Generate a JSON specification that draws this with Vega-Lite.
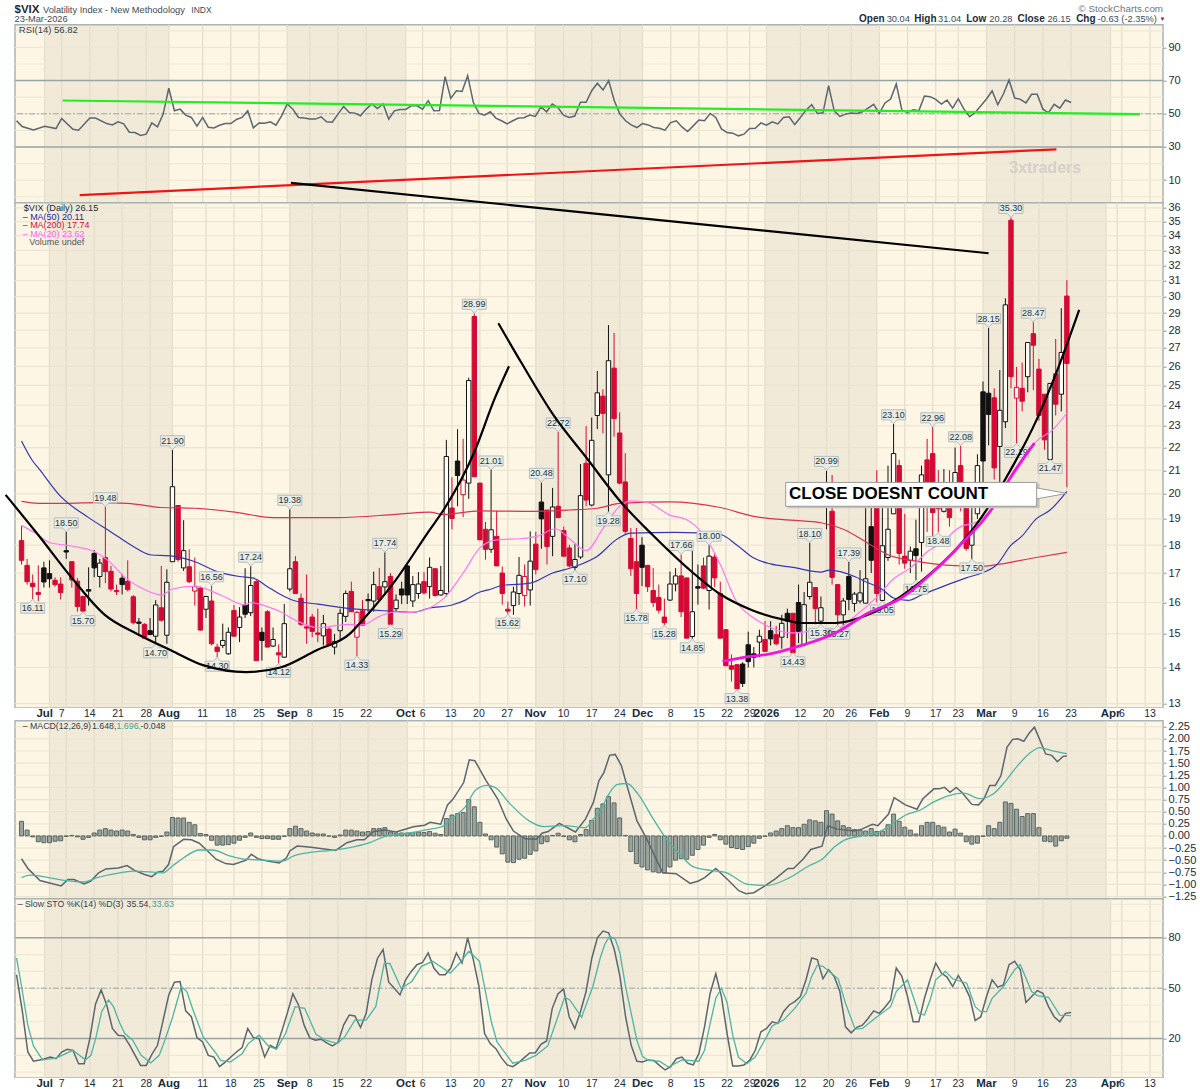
{"$schema":"https://vega.github.io/schema/vega-lite/v6.json","background":"white","padding":{"left":0,"top":2.7,"right":10,"bottom":0},"bounds":"flush","spacing":0,
"config":{"view":{"fill":"#fdf6e4","stroke":"#a9b4b4","strokeWidth":1.5},"font":"Liberation Sans","axis":{"labelFont":"Liberation Sans","labelFontSize":11,"labelColor":"#1b2b3b","labelPadding":2,"tickSize":3,"tickColor":"#8a9696","domain":false,"grid":false,"labelOverlap":false}},
"datasets":{
"bands":[{"a":5,"b":27},{"a":48,"b":69},{"a":92,"b":111},{"a":133,"b":153},{"a":172,"b":194}],
"xticks":[{"i":5,"label":"Jul","major":true},{"i":8,"label":"7","major":false},{"i":13,"label":"14","major":false},{"i":18,"label":"21","major":false},{"i":23,"label":"28","major":false},{"i":27,"label":"Aug","major":true},{"i":33,"label":"11","major":false},{"i":38,"label":"18","major":false},{"i":43,"label":"25","major":false},{"i":48,"label":"Sep","major":true},{"i":52,"label":"8","major":false},{"i":57,"label":"15","major":false},{"i":62,"label":"22","major":false},{"i":69,"label":"Oct","major":true},{"i":72,"label":"6","major":false},{"i":77,"label":"13","major":false},{"i":82,"label":"20","major":false},{"i":87,"label":"27","major":false},{"i":92,"label":"Nov","major":true},{"i":97,"label":"10","major":false},{"i":102,"label":"17","major":false},{"i":107,"label":"24","major":false},{"i":111,"label":"Dec","major":true},{"i":116,"label":"8","major":false},{"i":121,"label":"15","major":false},{"i":126,"label":"22","major":false},{"i":130,"label":"29","major":false},{"i":133,"label":"2026","major":true},{"i":139,"label":"12","major":false},{"i":144,"label":"20","major":false},{"i":148,"label":"26","major":false},{"i":153,"label":"Feb","major":true},{"i":158,"label":"9","major":false},{"i":163,"label":"17","major":false},{"i":167,"label":"23","major":false},{"i":172,"label":"Mar","major":true},{"i":177,"label":"9","major":false},{"i":182,"label":"16","major":false},{"i":187,"label":"23","major":false},{"i":194,"label":"Apr","major":true},{"i":196,"label":"6","major":false},{"i":201,"label":"13","major":false}],
"candles":[
{"i":0,"o":18.17,"h":18.72,"l":17.3,"c":17.45,"d":"dn"},{"i":1,"o":17.27,"h":17.5,"l":16.6,"c":16.7,"d":"dn"},{"i":2,"o":16.65,"h":16.95,"l":16.11,"c":16.53,"d":"dn"},{"i":3,"o":16.33,"h":17.27,"l":16.05,"c":16.27,"d":"dn"},{"i":4,"o":17.18,"h":17.4,"l":16.5,"c":16.69,"d":"up"},{"i":5,"o":16.98,"h":17.45,"l":16.5,"c":16.8,"d":"up"},{"i":6,"o":16.75,"h":16.85,"l":16.53,"c":16.6,"d":"dn"},{"i":7,"o":16.62,"h":16.85,"l":16.1,"c":16.33,"d":"dn"},{"i":8,"o":17.8,"h":18.5,"l":17.5,"c":17.75,"d":"up"},{"i":9,"o":17.4,"h":17.42,"l":16.5,"c":16.76,"d":"dn"},
{"i":10,"o":16.72,"h":16.83,"l":15.7,"c":15.87,"d":"dn"},{"i":11,"o":16.2,"h":16.2,"l":15.7,"c":15.72,"d":"dn"},{"i":12,"o":16.43,"h":17.2,"l":15.9,"c":16.38,"d":"up"},{"i":13,"o":17.7,"h":17.82,"l":16.85,"c":17.18,"d":"up"},{"i":14,"o":16.88,"h":17.5,"l":16.5,"c":17.35,"d":"up"},{"i":15,"o":17.55,"h":19.48,"l":16.65,"c":17.05,"d":"dn"},{"i":16,"o":17.06,"h":17.25,"l":16.37,"c":16.45,"d":"dn"},{"i":17,"o":16.4,"h":16.6,"l":16.25,"c":16.36,"d":"dn"},{"i":18,"o":16.82,"h":16.97,"l":16.27,"c":16.6,"d":"up"},{"i":19,"o":16.72,"h":17.45,"l":16.37,"c":16.43,"d":"dn"},
{"i":20,"o":16.19,"h":16.25,"l":15.3,"c":15.35,"d":"dn"},{"i":21,"o":15.37,"h":15.5,"l":14.95,"c":15.33,"d":"up"},{"i":22,"o":15.3,"h":15.33,"l":14.85,"c":14.87,"d":"dn"},{"i":23,"o":15.1,"h":15.5,"l":14.98,"c":14.98,"d":"up"},{"i":24,"o":14.93,"h":16.08,"l":14.7,"c":15.92,"d":"up"},{"i":25,"o":15.83,"h":17.25,"l":15.38,"c":15.43,"d":"dn"},{"i":26,"o":14.96,"h":17.13,"l":14.7,"c":16.68,"d":"up"},{"i":27,"o":17.4,"h":21.9,"l":17.4,"c":20.3,"d":"up"},{"i":28,"o":19.53,"h":19.55,"l":17.4,"c":17.48,"d":"dn"},{"i":29,"o":17.18,"h":18.95,"l":17.07,"c":17.8,"d":"up"},
{"i":30,"o":17.22,"h":17.85,"l":16.65,"c":16.7,"d":"dn"},{"i":31,"o":16.38,"h":17.55,"l":15.9,"c":16.53,"d":"dn"},{"i":32,"o":16.48,"h":16.53,"l":15.1,"c":15.12,"d":"dn"},{"i":33,"o":15.78,"h":16.2,"l":15.5,"c":16.2,"d":"up"},{"i":34,"o":16.05,"h":16.56,"l":14.65,"c":14.7,"d":"dn"},{"i":35,"o":14.6,"h":14.7,"l":14.3,"c":14.47,"d":"dn"},{"i":36,"o":14.65,"h":15.32,"l":14.57,"c":14.8,"d":"up"},{"i":37,"o":14.4,"h":15.2,"l":14.37,"c":15.05,"d":"up"},{"i":38,"o":15.74,"h":15.92,"l":14.93,"c":14.93,"d":"dn"},{"i":39,"o":15.2,"h":15.85,"l":14.75,"c":15.53,"d":"up"},
{"i":40,"o":15.92,"h":17.17,"l":15.5,"c":15.62,"d":"up"},{"i":41,"o":15.67,"h":17.24,"l":15.56,"c":16.57,"d":"up"},{"i":42,"o":16.7,"h":16.75,"l":14.2,"c":14.2,"d":"dn"},{"i":43,"o":15.05,"h":15.2,"l":14.2,"c":14.8,"d":"up"},{"i":44,"o":15.7,"h":15.75,"l":14.6,"c":14.6,"d":"dn"},{"i":45,"o":14.63,"h":15.2,"l":14.6,"c":14.83,"d":"up"},{"i":46,"o":14.43,"h":14.68,"l":14.12,"c":14.37,"d":"dn"},{"i":47,"o":14.3,"h":15.95,"l":14.28,"c":15.32,"d":"up"},{"i":48,"o":16.45,"h":19.38,"l":16.37,"c":17.15,"d":"up"},{"i":49,"o":17.4,"h":17.6,"l":16.3,"c":16.3,"d":"dn"},
{"i":50,"o":16.14,"h":16.3,"l":15.25,"c":15.3,"d":"dn"},{"i":51,"o":15.22,"h":16.95,"l":14.7,"c":15.18,"d":"dn"},{"i":52,"o":15.53,"h":15.63,"l":14.9,"c":15.08,"d":"dn"},{"i":53,"o":15.03,"h":15.8,"l":14.75,"c":14.99,"d":"dn"},{"i":54,"o":14.94,"h":15.6,"l":14.65,"c":15.32,"d":"up"},{"i":55,"o":15.15,"h":15.2,"l":14.62,"c":14.65,"d":"dn"},{"i":56,"o":14.6,"h":15,"l":14.38,"c":14.77,"d":"up"},{"i":57,"o":15.1,"h":15.8,"l":14.83,"c":15.65,"d":"up"},{"i":58,"o":15.55,"h":16.4,"l":15.37,"c":16.3,"d":"up"},{"i":59,"o":16.37,"h":16.7,"l":15.7,"c":15.7,"d":"dn"},
{"i":60,"o":14.9,"h":15.72,"l":14.33,"c":15.68,"d":"dn"},{"i":61,"o":15.73,"h":16.08,"l":15.25,"c":15.27,"d":"dn"},{"i":62,"o":16.1,"h":16.3,"l":15.7,"c":16.06,"d":"up"},{"i":63,"o":16.05,"h":17.05,"l":15.7,"c":16.6,"d":"up"},{"i":64,"o":16.53,"h":17.18,"l":16.08,"c":16.1,"d":"dn"},{"i":65,"o":16.52,"h":17.74,"l":16.25,"c":16.7,"d":"up"},{"i":66,"o":16.88,"h":17,"l":15.29,"c":15.3,"d":"dn"},{"i":67,"o":15.8,"h":16.27,"l":15.7,"c":16.08,"d":"up"},{"i":68,"o":16.45,"h":16.7,"l":15.95,"c":16.25,"d":"up"},{"i":69,"o":17.25,"h":17.28,"l":15.95,"c":16.25,"d":"up"},
{"i":70,"o":16.05,"h":16.9,"l":15.85,"c":16.6,"d":"up"},{"i":71,"o":16.3,"h":17.03,"l":16.13,"c":16.62,"d":"up"},{"i":72,"o":16.7,"h":17.03,"l":16.27,"c":16.32,"d":"dn"},{"i":73,"o":16.53,"h":17.55,"l":16.13,"c":17.2,"d":"up"},{"i":74,"o":17.15,"h":17.17,"l":16.2,"c":16.23,"d":"dn"},{"i":75,"o":16.25,"h":17.25,"l":16.23,"c":16.4,"d":"up"},{"i":76,"o":16.3,"h":22.35,"l":16.2,"c":21.6,"d":"up"},{"i":77,"o":19.43,"h":20.7,"l":18.6,"c":19.02,"d":"dn"},{"i":78,"o":21.4,"h":22.85,"l":19.5,"c":20.77,"d":"up"},{"i":79,"o":19.97,"h":22.4,"l":19.07,"c":20.58,"d":"dn"},
{"i":80,"o":20.45,"h":25.4,"l":19.8,"c":25.25,"d":"up"},{"i":81,"o":28.8,"h":28.99,"l":20.72,"c":20.72,"d":"dn"},{"i":82,"o":20.45,"h":20.45,"l":18.2,"c":18.2,"d":"dn"},{"i":83,"o":18.6,"h":18.88,"l":17.47,"c":17.85,"d":"dn"},{"i":84,"o":17.85,"h":21.01,"l":17.72,"c":18.58,"d":"up"},{"i":85,"o":18.33,"h":19.32,"l":17.25,"c":17.25,"d":"dn"},{"i":86,"o":17,"h":17.23,"l":15.93,"c":16.3,"d":"dn"},{"i":87,"o":15.78,"h":16.03,"l":15.62,"c":15.72,"d":"dn"},{"i":88,"o":15.9,"h":16.53,"l":15.6,"c":16.35,"d":"up"},{"i":89,"o":16.3,"h":17.57,"l":15.92,"c":16.92,"d":"up"},
{"i":90,"o":16.23,"h":17.3,"l":15.87,"c":16.88,"d":"dn"},{"i":91,"o":16.42,"h":18.52,"l":15.9,"c":17.42,"d":"up"},{"i":92,"o":18.04,"h":18.5,"l":16.95,"c":17.12,"d":"dn"},{"i":93,"o":19.67,"h":20.48,"l":17.87,"c":19,"d":"up"},{"i":94,"o":19.35,"h":19.35,"l":17.3,"c":17.95,"d":"dn"},{"i":95,"o":18.33,"h":20.25,"l":17.6,"c":19.47,"d":"up"},{"i":96,"o":19.5,"h":22.72,"l":19.05,"c":19.05,"d":"dn"},{"i":97,"o":18.55,"h":18.7,"l":17.58,"c":17.6,"d":"dn"},{"i":98,"o":17.9,"h":18.02,"l":17.2,"c":17.25,"d":"dn"},{"i":99,"o":17.2,"h":18.04,"l":17.1,"c":17.48,"d":"up"},
{"i":100,"o":17.57,"h":21.27,"l":17.5,"c":19.93,"d":"up"},{"i":101,"o":21.3,"h":23,"l":19.5,"c":19.75,"d":"dn"},{"i":102,"o":19.55,"h":23.4,"l":19.5,"c":22.33,"d":"up"},{"i":103,"o":23.5,"h":25.75,"l":22.85,"c":24.62,"d":"up"},{"i":104,"o":24.45,"h":24.8,"l":22.65,"c":23.6,"d":"dn"},{"i":105,"o":20.8,"h":28.3,"l":19.28,"c":26.3,"d":"up"},{"i":106,"o":25.9,"h":27.85,"l":22.5,"c":23.35,"d":"dn"},{"i":107,"o":22.67,"h":23.65,"l":20.4,"c":20.45,"d":"dn"},{"i":108,"o":20.5,"h":21.75,"l":18.4,"c":18.52,"d":"dn"},{"i":109,"o":18.25,"h":18.65,"l":16.9,"c":17.15,"d":"dn"},
{"i":110,"o":17.4,"h":18.65,"l":15.78,"c":16.3,"d":"dn"},{"i":111,"o":18,"h":18.3,"l":16.55,"c":17.2,"d":"up"},{"i":112,"o":17.27,"h":17.27,"l":16.35,"c":16.53,"d":"dn"},{"i":113,"o":16.4,"h":17.18,"l":15.85,"c":16,"d":"dn"},{"i":114,"o":16.17,"h":16.6,"l":15.65,"c":15.75,"d":"dn"},{"i":115,"o":15.53,"h":16.13,"l":15.28,"c":15.35,"d":"dn"},{"i":116,"o":16.08,"h":17.05,"l":16.05,"c":16.62,"d":"up"},{"i":117,"o":16.62,"h":17.17,"l":16.37,"c":16.9,"d":"up"},{"i":118,"o":16.9,"h":17.66,"l":15.53,"c":15.7,"d":"dn"},{"i":119,"o":16.83,"h":16.83,"l":14.87,"c":14.87,"d":"dn"},
{"i":120,"o":14.92,"h":17.8,"l":14.85,"c":15.7,"d":"up"},{"i":121,"o":16.53,"h":17.3,"l":15.93,"c":16.48,"d":"up"},{"i":122,"o":17.25,"h":17.55,"l":16.45,"c":16.48,"d":"dn"},{"i":123,"o":16.4,"h":18,"l":15.77,"c":17.6,"d":"up"},{"i":124,"o":17.57,"h":17.68,"l":16.52,"c":16.83,"d":"dn"},{"i":125,"o":16.3,"h":16.7,"l":14.87,"c":14.87,"d":"dn"},{"i":126,"o":15.13,"h":15.15,"l":14.05,"c":14.05,"d":"dn"},{"i":127,"o":14.05,"h":14.38,"l":13.6,"c":13.95,"d":"dn"},{"i":128,"o":14.08,"h":14.1,"l":13.38,"c":13.4,"d":"dn"},{"i":129,"o":14.1,"h":14.15,"l":13.45,"c":13.55,"d":"up"},
{"i":130,"o":14.67,"h":15.07,"l":14,"c":14.17,"d":"up"},{"i":131,"o":14.4,"h":14.6,"l":14,"c":14.3,"d":"up"},{"i":132,"o":14.75,"h":15.13,"l":14.3,"c":14.93,"d":"up"},{"i":133,"o":14.83,"h":15.4,"l":14.47,"c":14.47,"d":"dn"},{"i":134,"o":15.1,"h":15.4,"l":14.65,"c":14.85,"d":"up"},{"i":135,"o":14.98,"h":15.25,"l":14.65,"c":14.7,"d":"dn"},{"i":136,"o":14.9,"h":15.6,"l":14.55,"c":15.33,"d":"up"},{"i":137,"o":15.65,"h":15.8,"l":14.87,"c":15.4,"d":"up"},{"i":138,"o":15.65,"h":15.65,"l":14.43,"c":14.43,"d":"dn"},{"i":139,"o":16,"h":16.6,"l":14.72,"c":15.08,"d":"up"},
{"i":140,"o":14.67,"h":16.35,"l":14.62,"c":15.93,"d":"up"},{"i":141,"o":16.2,"h":18.1,"l":16.1,"c":16.68,"d":"up"},{"i":142,"o":16.5,"h":16.52,"l":15.3,"c":15.8,"d":"dn"},{"i":143,"o":15.4,"h":16.2,"l":15.3,"c":15.83,"d":"up"},{"i":144,"o":20,"h":20.99,"l":18.6,"c":19.6,"d":"up"},{"i":145,"o":19.3,"h":20.8,"l":16.6,"c":16.85,"d":"dn"},{"i":146,"o":16.6,"h":16.6,"l":15.27,"c":15.6,"d":"dn"},{"i":147,"o":15.6,"h":16.15,"l":15.25,"c":16.05,"d":"up"},{"i":148,"o":16.88,"h":17.39,"l":15.75,"c":16.1,"d":"up"},{"i":149,"o":15.97,"h":16.35,"l":15.7,"c":16.28,"d":"up"},
{"i":150,"o":16.05,"h":17.1,"l":15.97,"c":16.32,"d":"up"},{"i":151,"o":15.98,"h":19.5,"l":15.97,"c":16.8,"d":"up"},{"i":152,"o":18.7,"h":19.5,"l":17,"c":17.45,"d":"up"},{"i":153,"o":19.7,"h":21,"l":16,"c":16.3,"d":"dn"},{"i":154,"o":16.07,"h":20,"l":16.05,"c":17.98,"d":"up"},{"i":155,"o":17.55,"h":21.2,"l":17.43,"c":18.6,"d":"up"},{"i":156,"o":19.2,"h":23.1,"l":19.2,"c":21.73,"d":"up"},{"i":157,"o":21.2,"h":21.45,"l":17.3,"c":17.7,"d":"dn"},{"i":158,"o":17.6,"h":19.2,"l":17.15,"c":17.35,"d":"dn"},{"i":159,"o":17.45,"h":17.95,"l":17,"c":17.78,"d":"up"},
{"i":160,"o":17.87,"h":18.97,"l":16.75,"c":17.62,"d":"up"},{"i":161,"o":18.1,"h":21.2,"l":17.05,"c":20.8,"d":"up"},{"i":162,"o":21.45,"h":22.4,"l":18.5,"c":19.7,"d":"dn"},{"i":163,"o":21.73,"h":22.96,"l":18.3,"c":19.25,"d":"dn"},{"i":164,"o":20,"h":21,"l":18.48,"c":19.4,"d":"dn"},{"i":165,"o":19.3,"h":21.05,"l":19.25,"c":19.5,"d":"up"},{"i":166,"o":19.5,"h":21,"l":18.7,"c":19.05,"d":"dn"},{"i":167,"o":19.5,"h":22,"l":19.5,"c":20.9,"d":"up"},{"i":168,"o":21.2,"h":22.08,"l":19.3,"c":19.5,"d":"dn"},{"i":169,"o":19.5,"h":20,"l":17.8,"c":17.88,"d":"dn"},
{"i":170,"o":18,"h":19.8,"l":17.5,"c":18.5,"d":"up"},{"i":171,"o":19.2,"h":21.7,"l":19,"c":21.2,"d":"up"},{"i":172,"o":24.67,"h":25.2,"l":20.3,"c":21.4,"d":"up"},{"i":173,"o":24.6,"h":28.15,"l":22.1,"c":23.55,"d":"up"},{"i":174,"o":24.37,"h":24.85,"l":20.6,"c":21.1,"d":"dn"},{"i":175,"o":22.05,"h":25.8,"l":20.5,"c":23.75,"d":"up"},{"i":176,"o":23.2,"h":29.9,"l":22.9,"c":29.5,"d":"up"},{"i":177,"o":35.1,"h":35.3,"l":24.85,"c":25.45,"d":"dn"},{"i":178,"o":24.35,"h":25.97,"l":22.19,"c":24.9,"d":"dn"},{"i":179,"o":24.85,"h":26.2,"l":23.7,"c":24.2,"d":"dn"},
{"i":180,"o":25.45,"h":27.3,"l":24.65,"c":27.3,"d":"up"},{"i":181,"o":27.8,"h":28.47,"l":24.75,"c":27.15,"d":"dn"},{"i":182,"o":25.85,"h":26.4,"l":23.25,"c":23.5,"d":"dn"},{"i":183,"o":24.55,"h":24.55,"l":21.9,"c":22.35,"d":"dn"},{"i":184,"o":21.47,"h":25.1,"l":21.47,"c":25.1,"d":"up"},{"i":185,"o":25.6,"h":27.5,"l":23.5,"c":24.05,"d":"dn"},{"i":186,"o":24.55,"h":29.3,"l":23.7,"c":26.75,"d":"up"},{"i":187,"o":30.04,"h":31.04,"l":20.28,"c":26.15,"d":"dn"}],
"ma50":[{"i":0,"v":22.3},{"i":2,"v":21.4},{"i":3,"v":21.1},{"i":7,"v":19.9},{"i":12,"v":19.05},{"i":16,"v":18.5},{"i":20,"v":17.95},{"i":23,"v":17.65},{"i":27,"v":17.6},{"i":31,"v":17.4},{"i":35,"v":17.05},{"i":39,"v":16.88},{"i":41.5,"v":16.82},{"i":44,"v":16.53},{"i":46,"v":16.3},{"i":49,"v":16.05},{"i":53,"v":15.95},{"i":58,"v":15.82},{"i":63,"v":15.75},{"i":66,"v":15.72},{"i":70,"v":15.68},{"i":73,"v":15.82},{"i":77,"v":15.92},{"i":79.4,"v":16.08},{"i":82,"v":16.35},{"i":83.5,"v":16.42},{"i":86,"v":16.57},{"i":91,"v":16.65},{"i":95,"v":17},{"i":99,"v":17.23},{"i":103,"v":17.6},{"i":106.7,"v":18.25},{"i":109,"v":18.45},{"i":117,"v":18.48},{"i":125,"v":18.4},{"i":128,"v":18},{"i":131,"v":17.53},{"i":134,"v":17.32},{"i":138,"v":17.2},{"i":143,"v":17.03},{"i":144.5,"v":17.1},{"i":149,"v":16.88},{"i":151,"v":16.7},{"i":154,"v":16.43},{"i":156,"v":16.15},{"i":158.6,"v":16.07},{"i":161,"v":16.25},{"i":165,"v":16.55},{"i":169,"v":16.83},{"i":172,"v":17.02},{"i":174.5,"v":17.3},{"i":177,"v":18},{"i":179,"v":18.35},{"i":181.5,"v":19},{"i":184,"v":19.35},{"i":187,"v":20.11}],
"ma200":[{"i":0,"v":19.7},{"i":3,"v":19.62},{"i":8.4,"v":19.62},{"i":13,"v":19.65},{"i":19,"v":19.62},{"i":25,"v":19.45},{"i":31,"v":19.42},{"i":38.6,"v":19.25},{"i":45,"v":19.05},{"i":56.5,"v":19.05},{"i":67,"v":19.18},{"i":73,"v":19.27},{"i":75.5,"v":19.17},{"i":82,"v":19.32},{"i":91.5,"v":19.3},{"i":98,"v":19.35},{"i":103,"v":19.42},{"i":107,"v":19.62},{"i":116,"v":19.68},{"i":125,"v":19.45},{"i":131,"v":19.1},{"i":137.6,"v":18.95},{"i":143,"v":18.85},{"i":147,"v":18.6},{"i":152,"v":18},{"i":155,"v":17.65},{"i":160,"v":17.42},{"i":167,"v":17.26},{"i":172.3,"v":17.24},{"i":174.5,"v":17.3},{"i":178,"v":17.42},{"i":181.5,"v":17.55},{"i":187,"v":17.74}],
"ma20":[{"i":0,"v":18.75},{"i":2.5,"v":18.45},{"i":5,"v":18.1},{"i":9,"v":17.97},{"i":13,"v":17.77},{"i":16,"v":17.35},{"i":18.5,"v":16.85},{"i":21,"v":16.53},{"i":25,"v":16.25},{"i":27,"v":16.45},{"i":31,"v":16.55},{"i":35.6,"v":16.25},{"i":40,"v":15.92},{"i":41,"v":16},{"i":45,"v":15.8},{"i":46.3,"v":15.7},{"i":49,"v":15.43},{"i":53,"v":15.2},{"i":58.6,"v":15.3},{"i":61,"v":15.28},{"i":64,"v":15.55},{"i":67,"v":15.7},{"i":69.8,"v":15.68},{"i":75.5,"v":16.13},{"i":79,"v":17},{"i":82,"v":17.9},{"i":85,"v":18.2},{"i":89.5,"v":18.25},{"i":92.5,"v":18.35},{"i":95.5,"v":18.62},{"i":98,"v":18.25},{"i":101,"v":17.8},{"i":104,"v":18.62},{"i":107,"v":19.5},{"i":109,"v":19.72},{"i":112,"v":19.65},{"i":116,"v":19.15},{"i":119,"v":18.97},{"i":122.5,"v":18.25},{"i":125,"v":17.3},{"i":128,"v":16},{"i":131,"v":15.5},{"i":134,"v":15.2},{"i":137.6,"v":15.03},{"i":141,"v":15.08},{"i":145.5,"v":15.13},{"i":149,"v":15.55},{"i":153,"v":16.18},{"i":156,"v":16.8},{"i":159,"v":17.18},{"i":162.5,"v":17.83},{"i":164,"v":18},{"i":168,"v":18.7},{"i":171,"v":18.9},{"i":173.4,"v":19.35},{"i":177,"v":20.65},{"i":179,"v":21.35},{"i":181.5,"v":22.27},{"i":184.4,"v":22.8},{"i":187,"v":23.62}],
"tags":[{"i":2,"p":16.11,"pos":"below"},{"i":11,"p":15.7,"pos":"below"},{"i":24,"p":14.7,"pos":"below"},{"i":35,"p":14.3,"pos":"below"},{"i":46,"p":14.12,"pos":"below"},{"i":60,"p":14.33,"pos":"below"},{"i":66,"p":15.29,"pos":"below"},{"i":87,"p":15.62,"pos":"below"},{"i":99,"p":17.1,"pos":"below"},{"i":105,"p":19.28,"pos":"below"},{"i":110,"p":15.78,"pos":"below"},{"i":115,"p":15.28,"pos":"below"},{"i":120,"p":14.85,"pos":"below"},{"i":128,"p":13.38,"pos":"below"},{"i":138,"p":14.43,"pos":"below"},{"i":143,"p":15.3,"pos":"below"},{"i":146,"p":15.27,"pos":"below"},{"i":154,"p":16.05,"pos":"below"},{"i":160,"p":16.75,"pos":"below"},{"i":164,"p":18.48,"pos":"below"},{"i":170,"p":17.5,"pos":"below"},{"i":178,"p":22.19,"pos":"below"},{"i":184,"p":21.47,"pos":"below"},{"i":8,"p":18.5,"pos":"above"},{"i":15,"p":19.48,"pos":"above"},{"i":27,"p":21.9,"pos":"above"},{"i":34,"p":16.56,"pos":"above"},{"i":41,"p":17.24,"pos":"above"},{"i":48,"p":19.38,"pos":"above"},{"i":65,"p":17.74,"pos":"above"},{"i":81,"p":28.99,"pos":"above"},{"i":84,"p":21.01,"pos":"above"},{"i":93,"p":20.48,"pos":"above"},{"i":96,"p":22.72,"pos":"above"},{"i":118,"p":17.66,"pos":"above"},{"i":123,"p":18,"pos":"above"},{"i":141,"p":18.1,"pos":"above"},{"i":144,"p":20.99,"pos":"above"},{"i":148,"p":17.39,"pos":"above"},{"i":156,"p":23.1,"pos":"above"},{"i":163,"p":22.96,"pos":"above"},{"i":168,"p":22.08,"pos":"above"},{"i":173,"p":28.15,"pos":"above"},{"i":177,"p":35.3,"pos":"above"},{"i":181,"p":28.47,"pos":"above"}],
"arcs":[{"arc":"a","n":0,"i":-2.84,"v":19.96},{"arc":"a","n":1,"i":3,"v":18.38},{"arc":"a","n":2,"i":9,"v":16.83},{"arc":"a","n":3,"i":14.9,"v":15.6},{"arc":"a","n":4,"i":20.7,"v":15},{"arc":"a","n":5,"i":26.8,"v":14.5},{"arc":"a","n":6,"i":32.6,"v":14.06},{"arc":"a","n":7,"i":40.2,"v":13.87},{"arc":"a","n":8,"i":46.3,"v":14},{"arc":"a","n":9,"i":52.7,"v":14.5},{"arc":"a","n":10,"i":58.7,"v":15},{"arc":"a","n":11,"i":61,"v":15.43},{"arc":"a","n":12,"i":66.8,"v":16.72},{"arc":"a","n":13,"i":72.9,"v":18.54},{"arc":"a","n":14,"i":75.7,"v":19.42},{"arc":"a","n":15,"i":81,"v":21.8},{"arc":"a","n":16,"i":84.6,"v":24.3},{"arc":"a","n":17,"i":87.2,"v":26},{"arc":"b","n":0,"i":85.3,"v":28.4},{"arc":"b","n":1,"i":89.4,"v":26.2},{"arc":"b","n":2,"i":95.2,"v":23.5},{"arc":"b","n":3,"i":101.2,"v":21.5},{"arc":"b","n":4,"i":107.1,"v":19.7},{"arc":"b","n":5,"i":112.9,"v":18.38},{"arc":"b","n":6,"i":119,"v":17.2},{"arc":"b","n":7,"i":124.8,"v":16.3},{"arc":"b","n":8,"i":130.7,"v":15.75},{"arc":"b","n":9,"i":136.7,"v":15.43},{"arc":"b","n":10,"i":139.5,"v":15.34},{"arc":"b","n":11,"i":145.6,"v":15.34},{"arc":"b","n":12,"i":151.4,"v":15.6},{"arc":"b","n":13,"i":157.3,"v":16.2},{"arc":"b","n":14,"i":163.3,"v":17.1},{"arc":"b","n":15,"i":167.4,"v":17.9},{"arc":"b","n":16,"i":173.2,"v":19.55},{"arc":"b","n":17,"i":175.7,"v":20.5},{"arc":"b","n":18,"i":181.6,"v":23.3},{"arc":"b","n":19,"i":185.1,"v":25.65},{"arc":"b","n":20,"i":189.2,"v":29.2},{"arc":"c","n":0,"i":48.2,"v":37.9},{"arc":"c","n":1,"i":173,"v":32.8}],
"magenta":[{"i":125.4,"v":14.18},{"i":130.7,"v":14.33},{"i":133.7,"v":14.39},{"i":139.5,"v":14.65},{"i":145.6,"v":15.03},{"i":151.4,"v":15.65},{"i":157.3,"v":16.14},{"i":163.3,"v":17.08},{"i":167.4,"v":17.9},{"i":173.9,"v":19.5},{"i":176.8,"v":20.65},{"i":181.2,"v":22.2}],
"rsi":[{"i":0,"v":45.8},{"i":1,"v":42.3},{"i":3,"v":40.3},{"i":5,"v":42.5},{"i":7,"v":41.1},{"i":8,"v":47.2},{"i":10,"v":40.7},{"i":11,"v":40.1},{"i":13,"v":47.4},{"i":14,"v":47.4},{"i":16,"v":44.1},{"i":17,"v":43.3},{"i":18,"v":45.2},{"i":19,"v":43.9},{"i":20,"v":38.9},{"i":21,"v":38.7},{"i":22,"v":36.9},{"i":23,"v":37.7},{"i":24,"v":44.5},{"i":25,"v":42.1},{"i":26,"v":49.8},{"i":27,"v":65.4},{"i":28,"v":51.8},{"i":29,"v":52.8},{"i":30,"v":49.2},{"i":31,"v":47.8},{"i":32,"v":42.5},{"i":33,"v":47.8},{"i":34,"v":41.9},{"i":35,"v":41.5},{"i":36,"v":43.1},{"i":37,"v":44.1},{"i":38,"v":44.1},{"i":39,"v":46.6},{"i":40,"v":47.8},{"i":41,"v":51.8},{"i":42,"v":41.5},{"i":43,"v":44.5},{"i":44,"v":44.3},{"i":45,"v":45.2},{"i":46,"v":43.1},{"i":47,"v":48.8},{"i":48,"v":55.9},{"i":49,"v":52.8},{"i":50,"v":47.8},{"i":51,"v":47.4},{"i":52,"v":46.8},{"i":53,"v":46.8},{"i":54,"v":48.2},{"i":55,"v":45.2},{"i":56,"v":44.9},{"i":57,"v":49.8},{"i":58,"v":54.4},{"i":59,"v":50.8},{"i":60,"v":50.4},{"i":61,"v":48.8},{"i":62,"v":52.8},{"i":63,"v":55.9},{"i":64,"v":53.2},{"i":65,"v":55.9},{"i":66,"v":46.8},{"i":67,"v":51.8},{"i":68,"v":52.6},{"i":69,"v":52.6},{"i":70,"v":54.8},{"i":71,"v":54.8},{"i":72,"v":52.8},{"i":73,"v":57.9},{"i":74,"v":51.8},{"i":75,"v":52},{"i":76,"v":72.4},{"i":77,"v":59.3},{"i":78,"v":63.9},{"i":79,"v":63.5},{"i":80,"v":73},{"i":81,"v":56.9},{"i":82,"v":50.2},{"i":83,"v":49.2},{"i":84,"v":51.2},{"i":85,"v":47.4},{"i":86,"v":45.8},{"i":87,"v":43.9},{"i":88,"v":45.8},{"i":89,"v":47.4},{"i":90,"v":47.6},{"i":91,"v":49.2},{"i":92,"v":48.4},{"i":93,"v":54.2},{"i":94,"v":51.2},{"i":95,"v":55.9},{"i":96,"v":53.8},{"i":97,"v":49.2},{"i":98,"v":47.8},{"i":99,"v":48.6},{"i":100,"v":56.9},{"i":101,"v":56.9},{"i":102,"v":63.9},{"i":103,"v":68.4},{"i":104,"v":64.3},{"i":105,"v":70},{"i":106,"v":57.9},{"i":107,"v":49.8},{"i":108,"v":45.8},{"i":109,"v":43.3},{"i":110,"v":41.7},{"i":111,"v":44.1},{"i":112,"v":43.3},{"i":113,"v":41.7},{"i":114,"v":41.3},{"i":115,"v":40.1},{"i":116,"v":44.7},{"i":117,"v":45.8},{"i":118,"v":42.1},{"i":119,"v":39.3},{"i":120,"v":42.7},{"i":121,"v":46.2},{"i":122,"v":45.8},{"i":123,"v":50.2},{"i":124,"v":47.8},{"i":125,"v":40.9},{"i":126,"v":38.7},{"i":127,"v":38.3},{"i":128,"v":36.7},{"i":129,"v":37.7},{"i":130,"v":41.1},{"i":131,"v":41.3},{"i":132,"v":44.5},{"i":133,"v":43.1},{"i":134,"v":45.2},{"i":135,"v":43.9},{"i":136,"v":47.8},{"i":137,"v":48.2},{"i":138,"v":43.5},{"i":139,"v":47.8},{"i":140,"v":52.2},{"i":141,"v":55.5},{"i":142,"v":50.2},{"i":143,"v":50.6},{"i":144,"v":67},{"i":145,"v":51.8},{"i":146,"v":48.4},{"i":147,"v":49.8},{"i":148,"v":50.4},{"i":149,"v":50.2},{"i":150,"v":51.2},{"i":151,"v":53.4},{"i":152,"v":55.7},{"i":153,"v":50.2},{"i":154,"v":56.5},{"i":155,"v":58.9},{"i":156,"v":68},{"i":157,"v":52.2},{"i":158,"v":50.8},{"i":159,"v":52.4},{"i":160,"v":51.8},{"i":161,"v":60.7},{"i":162,"v":60.3},{"i":163,"v":58.7},{"i":164,"v":55.9},{"i":165,"v":58.3},{"i":166,"v":53.4},{"i":167,"v":59.1},{"i":168,"v":52.8},{"i":169,"v":48.2},{"i":170,"v":50.8},{"i":171,"v":54.8},{"i":172,"v":58.9},{"i":173,"v":63.9},{"i":174,"v":55.5},{"i":175,"v":61.9},{"i":176,"v":70.4},{"i":177,"v":59.5},{"i":178,"v":58.7},{"i":179,"v":56.5},{"i":180,"v":61.7},{"i":181,"v":61.7},{"i":182,"v":52.8},{"i":183,"v":50.6},{"i":184,"v":55.7},{"i":185,"v":53.4},{"i":186,"v":58.3},{"i":187,"v":56.82}],
"hist":[{"i":0,"v":0.3},{"i":1,"v":0.12},{"i":2,"v":-0.02},{"i":3,"v":-0.12},{"i":4,"v":-0.14},{"i":5,"v":-0.14},{"i":6,"v":-0.11},{"i":7,"v":-0.1},{"i":8,"v":-0.01},{"i":9,"v":0.01},{"i":10,"v":-0.02},{"i":11,"v":-0.07},{"i":12,"v":-0.03},{"i":13,"v":0.06},{"i":14,"v":0.12},{"i":15,"v":0.15},{"i":16,"v":0.12},{"i":17,"v":0.1},{"i":18,"v":0.12},{"i":19,"v":0.1},{"i":20,"v":0.03},{"i":21,"v":-0.03},{"i":22,"v":-0.08},{"i":23,"v":-0.08},{"i":24,"v":-0.03},{"i":25,"v":-0.01},{"i":26,"v":0.08},{"i":27,"v":0.38},{"i":28,"v":0.37},{"i":29,"v":0.37},{"i":30,"v":0.28},{"i":31,"v":0.23},{"i":32,"v":0.05},{"i":33,"v":0.03},{"i":34,"v":-0.09},{"i":35,"v":-0.19},{"i":36,"v":-0.19},{"i":37,"v":-0.18},{"i":38,"v":-0.15},{"i":39,"v":-0.09},{"i":40,"v":-0.03},{"i":41,"v":0.06},{"i":42,"v":-0.03},{"i":43,"v":-0.055},{"i":44,"v":-0.055},{"i":45,"v":-0.07},{"i":46,"v":-0.07},{"i":47,"v":-0.01},{"i":48,"v":0.15},{"i":49,"v":0.2},{"i":50,"v":0.15},{"i":51,"v":0.1},{"i":52,"v":0.06},{"i":53,"v":0.04},{"i":54,"v":0.04},{"i":55,"v":-0.005},{"i":56,"v":-0.03},{"i":57,"v":0.02},{"i":58,"v":0.12},{"i":59,"v":0.12},{"i":60,"v":0.1},{"i":61,"v":0.08},{"i":62,"v":0.09},{"i":63,"v":0.15},{"i":64,"v":0.15},{"i":65,"v":0.17},{"i":66,"v":0.08},{"i":67,"v":0.06},{"i":68,"v":0.06},{"i":69,"v":0.06},{"i":70,"v":0.07},{"i":71,"v":0.08},{"i":72,"v":0.07},{"i":73,"v":0.09},{"i":74,"v":0.055},{"i":75,"v":0.03},{"i":76,"v":0.36},{"i":77,"v":0.43},{"i":78,"v":0.46},{"i":79,"v":0.48},{"i":80,"v":0.75},{"i":81,"v":0.6},{"i":82,"v":0.28},{"i":83,"v":0.04},{"i":84,"v":-0.08},{"i":85,"v":-0.23},{"i":86,"v":-0.37},{"i":87,"v":-0.54},{"i":88,"v":-0.55},{"i":89,"v":-0.48},{"i":90,"v":-0.46},{"i":91,"v":-0.38},{"i":92,"v":-0.31},{"i":93,"v":-0.16},{"i":94,"v":-0.12},{"i":95,"v":0.01},{"i":96,"v":0.055},{"i":97,"v":-0.01},{"i":98,"v":-0.08},{"i":99,"v":-0.12},{"i":100,"v":0.03},{"i":101,"v":0.13},{"i":102,"v":0.32},{"i":103,"v":0.57},{"i":104,"v":0.66},{"i":105,"v":0.81},{"i":106,"v":0.68},{"i":107,"v":0.37},{"i":108,"v":0.01},{"i":109,"v":-0.32},{"i":110,"v":-0.57},{"i":111,"v":-0.64},{"i":112,"v":-0.7},{"i":113,"v":-0.74},{"i":114,"v":-0.76},{"i":115,"v":-0.76},{"i":116,"v":-0.64},{"i":117,"v":-0.5},{"i":118,"v":-0.47},{"i":119,"v":-0.48},{"i":120,"v":-0.4},{"i":121,"v":-0.28},{"i":122,"v":-0.19},{"i":123,"v":-0.03},{"i":124,"v":0.03},{"i":125,"v":-0.08},{"i":126,"v":-0.17},{"i":127,"v":-0.24},{"i":128,"v":-0.26},{"i":129,"v":-0.28},{"i":130,"v":-0.22},{"i":131,"v":-0.15},{"i":132,"v":-0.05},{"i":133,"v":-0.01},{"i":134,"v":0.06},{"i":135,"v":0.1},{"i":136,"v":0.15},{"i":137,"v":0.21},{"i":138,"v":0.17},{"i":139,"v":0.17},{"i":140,"v":0.24},{"i":141,"v":0.33},{"i":142,"v":0.31},{"i":143,"v":0.28},{"i":144,"v":0.52},{"i":145,"v":0.45},{"i":146,"v":0.31},{"i":147,"v":0.21},{"i":148,"v":0.17},{"i":149,"v":0.13},{"i":150,"v":0.12},{"i":151,"v":0.1},{"i":152,"v":0.15},{"i":153,"v":0.09},{"i":154,"v":0.1},{"i":155,"v":0.23},{"i":156,"v":0.45},{"i":157,"v":0.3},{"i":158,"v":0.18},{"i":159,"v":0.12},{"i":160,"v":0.04},{"i":161,"v":0.21},{"i":162,"v":0.28},{"i":163,"v":0.28},{"i":164,"v":0.21},{"i":165,"v":0.18},{"i":166,"v":0.08},{"i":167,"v":0.14},{"i":168,"v":0.055},{"i":169,"v":-0.12},{"i":170,"v":-0.17},{"i":171,"v":-0.15},{"i":172,"v":-0.01},{"i":173,"v":0.21},{"i":174,"v":0.15},{"i":175,"v":0.28},{"i":176,"v":0.7},{"i":177,"v":0.67},{"i":178,"v":0.55},{"i":179,"v":0.4},{"i":180,"v":0.46},{"i":181,"v":0.46},{"i":182,"v":0.17},{"i":183,"v":-0.11},{"i":184,"v":-0.12},{"i":185,"v":-0.21},{"i":186,"v":-0.1},{"i":187,"v":-0.048}],
"macd":[{"i":0,"v":-0.47},{"i":1.2,"v":-0.68},{"i":3.3,"v":-0.92},{"i":5,"v":-0.97},{"i":7.1,"v":-1.03},{"i":8.3,"v":-0.9},{"i":9.4,"v":-0.9},{"i":11.2,"v":-0.99},{"i":12.4,"v":-0.93},{"i":13.8,"v":-0.76},{"i":15.1,"v":-0.68},{"i":17.3,"v":-0.66},{"i":18.9,"v":-0.61},{"i":20.2,"v":-0.71},{"i":21.9,"v":-0.79},{"i":23.3,"v":-0.84},{"i":24.3,"v":-0.75},{"i":25.3,"v":-0.73},{"i":26.3,"v":-0.59},{"i":27.2,"v":-0.22},{"i":29,"v":-0.07},{"i":30.4,"v":-0.08},{"i":31.8,"v":-0.15},{"i":33.1,"v":-0.29},{"i":34.8,"v":-0.48},{"i":36.5,"v":-0.57},{"i":37.9,"v":-0.59},{"i":40.2,"v":-0.5},{"i":41.1,"v":-0.38},{"i":42.3,"v":-0.47},{"i":44,"v":-0.52},{"i":46.1,"v":-0.56},{"i":47.4,"v":-0.45},{"i":48,"v":-0.31},{"i":49.3,"v":-0.21},{"i":51.4,"v":-0.23},{"i":53.5,"v":-0.26},{"i":56.2,"v":-0.3},{"i":58.2,"v":-0.14},{"i":60,"v":-0.08},{"i":61.3,"v":-0.08},{"i":63,"v":0.09},{"i":65,"v":0.12},{"i":67,"v":0.08},{"i":70.1,"v":0.19},{"i":72.1,"v":0.22},{"i":73.1,"v":0.28},{"i":75,"v":0.24},{"i":76.2,"v":0.64},{"i":77.2,"v":0.76},{"i":79.1,"v":1.1},{"i":80.1,"v":1.57},{"i":81.1,"v":1.55},{"i":83.1,"v":1.14},{"i":85.2,"v":0.76},{"i":86.7,"v":0.35},{"i":88,"v":0.1},{"i":90.1,"v":-0.06},{"i":92.1,"v":-0.07},{"i":93.1,"v":0.055},{"i":94.2,"v":0.09},{"i":96.2,"v":0.26},{"i":99.1,"v":0.08},{"i":100.9,"v":0.35},{"i":102.3,"v":0.69},{"i":103.3,"v":1.14},{"i":104.2,"v":1.31},{"i":105.2,"v":1.66},{"i":106.2,"v":1.68},{"i":107.3,"v":1.45},{"i":108.3,"v":1.04},{"i":110.1,"v":0.31},{"i":111.7,"v":-0.03},{"i":114.7,"v":-0.76},{"i":117.1,"v":-0.78},{"i":119.6,"v":-0.98},{"i":121.1,"v":-0.93},{"i":122.2,"v":-0.86},{"i":124.2,"v":-0.67},{"i":126.3,"v":-0.9},{"i":128.3,"v":-1.13},{"i":129.6,"v":-1.19},{"i":131,"v":-1.17},{"i":132.7,"v":-1.05},{"i":134.9,"v":-0.88},{"i":137.1,"v":-0.67},{"i":138.1,"v":-0.67},{"i":139.8,"v":-0.48},{"i":141.2,"v":-0.28},{"i":143.2,"v":-0.21},{"i":144.2,"v":0.21},{"i":145.9,"v":0.14},{"i":149,"v":0.1},{"i":150.3,"v":0.14},{"i":152.2,"v":0.24},{"i":153.2,"v":0.21},{"i":155.1,"v":0.45},{"i":156.1,"v":0.79},{"i":158.1,"v":0.64},{"i":160.2,"v":0.55},{"i":161.2,"v":0.76},{"i":163.2,"v":0.97},{"i":164.2,"v":0.97},{"i":165.1,"v":1},{"i":166.1,"v":0.9},{"i":167.2,"v":1},{"i":168.2,"v":0.9},{"i":170,"v":0.65},{"i":171.2,"v":0.64},{"i":172.2,"v":0.77},{"i":173.2,"v":1.04},{"i":174.2,"v":1.04},{"i":175.2,"v":1.24},{"i":176.3,"v":1.83},{"i":177.3,"v":1.99},{"i":178.2,"v":2},{"i":179.3,"v":1.95},{"i":180.2,"v":2.11},{"i":181.2,"v":2.24},{"i":182.2,"v":1.97},{"i":183.2,"v":1.69},{"i":184.3,"v":1.66},{"i":185.3,"v":1.53},{"i":186.3,"v":1.64},{"i":187,"v":1.648}],
"signal":[{"i":0,"v":-0.86},{"i":1.6,"v":-0.81},{"i":3.9,"v":-0.84},{"i":7.3,"v":-0.91},{"i":11.1,"v":-0.95},{"i":13.5,"v":-0.86},{"i":17.6,"v":-0.76},{"i":20.2,"v":-0.725},{"i":25.3,"v":-0.76},{"i":27,"v":-0.62},{"i":29,"v":-0.45},{"i":31.8,"v":-0.29},{"i":34.1,"v":-0.29},{"i":37.2,"v":-0.41},{"i":39.9,"v":-0.48},{"i":43.3,"v":-0.5},{"i":46.7,"v":-0.52},{"i":48.7,"v":-0.41},{"i":51.4,"v":-0.345},{"i":56.2,"v":-0.29},{"i":59.6,"v":-0.22},{"i":62.3,"v":-0.14},{"i":65,"v":-0.01},{"i":69.1,"v":0.055},{"i":73.1,"v":0.14},{"i":75.2,"v":0.19},{"i":77.2,"v":0.38},{"i":79.3,"v":0.59},{"i":81.3,"v":0.95},{"i":83.3,"v":1.04},{"i":84.7,"v":1},{"i":87.4,"v":0.66},{"i":90.8,"v":0.31},{"i":93.5,"v":0.19},{"i":96.9,"v":0.21},{"i":100.9,"v":0.17},{"i":102.3,"v":0.35},{"i":103.6,"v":0.52},{"i":104.9,"v":0.83},{"i":106.6,"v":1.06},{"i":108.3,"v":1.08},{"i":110.3,"v":0.86},{"i":113,"v":0.35},{"i":115.4,"v":-0.07},{"i":117.8,"v":-0.38},{"i":120.2,"v":-0.64},{"i":123.2,"v":-0.71},{"i":125.9,"v":-0.75},{"i":130,"v":-1},{"i":133.4,"v":-1.02},{"i":137.4,"v":-0.86},{"i":140.8,"v":-0.62},{"i":143.2,"v":-0.48},{"i":145.6,"v":-0.21},{"i":147.3,"v":-0.08},{"i":150.3,"v":0},{"i":153.7,"v":0.1},{"i":156.1,"v":0.28},{"i":158.5,"v":0.45},{"i":160.5,"v":0.52},{"i":163.2,"v":0.7},{"i":165.9,"v":0.83},{"i":168.6,"v":0.88},{"i":171.4,"v":0.77},{"i":174,"v":0.88},{"i":175.8,"v":1.1},{"i":178.2,"v":1.45},{"i":180.2,"v":1.69},{"i":182.2,"v":1.82},{"i":184.3,"v":1.76},{"i":187,"v":1.696}],
"stok":[{"i":0,"v":58},{"i":1,"v":37},{"i":2,"v":12},{"i":3,"v":6.5},{"i":4.6,"v":7.5},{"i":6,"v":9},{"i":7,"v":8},{"i":8,"v":12},{"i":9,"v":13.6},{"i":10,"v":13},{"i":11,"v":5},{"i":12,"v":5},{"i":13,"v":20},{"i":14,"v":40.5},{"i":15,"v":49},{"i":16,"v":40},{"i":17,"v":26},{"i":18,"v":22},{"i":19,"v":21.6},{"i":20,"v":16.4},{"i":22,"v":4},{"i":23,"v":4},{"i":24,"v":10.6},{"i":25,"v":16},{"i":26,"v":31},{"i":27,"v":46},{"i":28,"v":53.6},{"i":29,"v":54},{"i":30,"v":36.5},{"i":31,"v":33},{"i":32,"v":20.6},{"i":33,"v":18},{"i":34,"v":10},{"i":35,"v":9},{"i":36,"v":3.3},{"i":37,"v":6},{"i":38,"v":9},{"i":39,"v":12},{"i":40,"v":14.6},{"i":41,"v":26},{"i":42,"v":20.6},{"i":43,"v":20},{"i":44,"v":9},{"i":45,"v":16},{"i":46,"v":14},{"i":47,"v":24},{"i":48,"v":35},{"i":49,"v":46.6},{"i":50,"v":40},{"i":51,"v":28},{"i":52,"v":20.4},{"i":53,"v":19},{"i":54,"v":19.6},{"i":55,"v":17.4},{"i":56,"v":15.6},{"i":57,"v":17.6},{"i":58,"v":28},{"i":59,"v":34},{"i":60,"v":33.5},{"i":61,"v":26.6},{"i":62,"v":35},{"i":63,"v":55},{"i":64,"v":67.7},{"i":65,"v":73},{"i":66,"v":53.6},{"i":67,"v":50},{"i":68,"v":46},{"i":69,"v":55},{"i":70,"v":60},{"i":71,"v":64},{"i":72,"v":65.3},{"i":73,"v":71},{"i":74,"v":62},{"i":75,"v":58},{"i":76,"v":58},{"i":77,"v":62},{"i":78,"v":71},{"i":79,"v":65},{"i":80,"v":80},{"i":81,"v":67},{"i":82,"v":51},{"i":83,"v":23},{"i":84,"v":17},{"i":85,"v":14},{"i":86,"v":8.5},{"i":87,"v":4.3},{"i":88,"v":3.3},{"i":89,"v":5.5},{"i":90,"v":8.5},{"i":91,"v":11.4},{"i":92,"v":11.6},{"i":93,"v":16.6},{"i":94,"v":18.6},{"i":95,"v":38},{"i":96,"v":46.6},{"i":97,"v":49.6},{"i":98,"v":33},{"i":99,"v":26},{"i":100,"v":36},{"i":101,"v":48},{"i":102,"v":67.7},{"i":103,"v":80},{"i":104,"v":84},{"i":105,"v":83},{"i":106,"v":73},{"i":107,"v":57},{"i":108,"v":33},{"i":109,"v":16},{"i":110,"v":6.5},{"i":111,"v":6},{"i":112,"v":7.3},{"i":113,"v":7},{"i":114,"v":4},{"i":115,"v":1.3},{"i":116,"v":3.3},{"i":117,"v":8},{"i":118,"v":9},{"i":119,"v":5.3},{"i":120,"v":4.3},{"i":121,"v":11},{"i":122,"v":27},{"i":123,"v":47},{"i":124,"v":58.6},{"i":125,"v":45},{"i":126,"v":23},{"i":127,"v":3.7},{"i":128,"v":3.7},{"i":129,"v":4.3},{"i":130,"v":7},{"i":131,"v":13},{"i":132,"v":24},{"i":133,"v":26},{"i":134,"v":30},{"i":135,"v":29},{"i":136,"v":36},{"i":137,"v":40},{"i":138,"v":42},{"i":139,"v":45},{"i":140,"v":55},{"i":141,"v":68},{"i":142,"v":67},{"i":143,"v":55.6},{"i":144,"v":61},{"i":145,"v":57},{"i":146,"v":48},{"i":147,"v":27},{"i":148,"v":23.4},{"i":149,"v":26.7},{"i":150,"v":28},{"i":151,"v":32},{"i":152,"v":36.5},{"i":153,"v":35},{"i":154,"v":38.7},{"i":155,"v":43},{"i":156,"v":62},{"i":157,"v":57},{"i":158,"v":45},{"i":159,"v":30},{"i":160,"v":30},{"i":161,"v":44},{"i":162,"v":55},{"i":163,"v":65},{"i":164,"v":59},{"i":165,"v":56.6},{"i":166,"v":51},{"i":167,"v":57.6},{"i":168,"v":52},{"i":169,"v":45},{"i":170,"v":30.7},{"i":171,"v":33},{"i":172,"v":45},{"i":173,"v":55},{"i":174,"v":50.6},{"i":175,"v":52},{"i":176,"v":64},{"i":177,"v":66},{"i":178,"v":61},{"i":179,"v":41.5},{"i":180,"v":45},{"i":181,"v":48.6},{"i":182,"v":47},{"i":183,"v":39},{"i":184,"v":33},{"i":185,"v":30},{"i":186,"v":35},{"i":187,"v":35.54}],
"stod":[{"i":0,"v":68},{"i":0.9,"v":51},{"i":2,"v":28},{"i":3,"v":15.6},{"i":4.6,"v":7.3},{"i":7,"v":8.3},{"i":10,"v":13},{"i":12.2,"v":7.3},{"i":13.2,"v":10},{"i":14.1,"v":21},{"i":15.1,"v":36},{"i":16.3,"v":43},{"i":17.2,"v":39},{"i":18.2,"v":30},{"i":19.2,"v":23},{"i":20.6,"v":19},{"i":22.1,"v":10},{"i":23.8,"v":5.5},{"i":25.3,"v":10},{"i":26.3,"v":19},{"i":27.7,"v":33},{"i":29.2,"v":51},{"i":30.2,"v":48},{"i":31.3,"v":37},{"i":33.1,"v":21},{"i":35.2,"v":12},{"i":36.2,"v":7},{"i":37.9,"v":6},{"i":40,"v":11},{"i":41.1,"v":17},{"i":43,"v":22},{"i":44.7,"v":15.4},{"i":46.1,"v":13.6},{"i":47.7,"v":23},{"i":49.4,"v":39},{"i":51.1,"v":38},{"i":53.1,"v":22.6},{"i":54.8,"v":19},{"i":56.9,"v":17},{"i":58.2,"v":21},{"i":60,"v":31},{"i":62,"v":31},{"i":63.7,"v":39},{"i":65.2,"v":64.7},{"i":66.2,"v":64.7},{"i":68.2,"v":50},{"i":70.1,"v":54},{"i":71.8,"v":63},{"i":73.8,"v":66},{"i":76.9,"v":59},{"i":78.6,"v":65},{"i":80.2,"v":72},{"i":82.1,"v":66},{"i":84.2,"v":30},{"i":85.2,"v":18},{"i":88,"v":5.3},{"i":90.2,"v":7},{"i":92.1,"v":10},{"i":94.2,"v":15.6},{"i":97.2,"v":44.6},{"i":98.1,"v":43},{"i":100.2,"v":32.7},{"i":102.2,"v":51},{"i":103.5,"v":68},{"i":104.3,"v":76},{"i":105.2,"v":81},{"i":106.2,"v":79},{"i":107,"v":71},{"i":108,"v":51},{"i":109,"v":35},{"i":110,"v":19},{"i":111,"v":9.4},{"i":112,"v":7},{"i":114,"v":6.5},{"i":115.6,"v":3},{"i":118,"v":7.3},{"i":121,"v":6.5},{"i":122,"v":13},{"i":123,"v":29},{"i":124,"v":44},{"i":125,"v":50},{"i":126,"v":41.5},{"i":127,"v":22},{"i":128,"v":9},{"i":129.5,"v":5},{"i":131,"v":9},{"i":133,"v":21},{"i":134,"v":27.5},{"i":136,"v":31},{"i":138,"v":38},{"i":140,"v":47},{"i":141,"v":57},{"i":142,"v":63.7},{"i":143,"v":63},{"i":145.7,"v":55.6},{"i":147,"v":41},{"i":148.7,"v":25.6},{"i":150,"v":26},{"i":152.2,"v":32},{"i":155,"v":39},{"i":156,"v":48},{"i":158,"v":55},{"i":160,"v":35},{"i":161,"v":34},{"i":162,"v":43},{"i":163,"v":55},{"i":164.7,"v":60},{"i":166,"v":55.6},{"i":168.5,"v":53},{"i":170,"v":39},{"i":171,"v":36},{"i":172,"v":36},{"i":173,"v":44},{"i":175,"v":51},{"i":177,"v":61},{"i":178,"v":64},{"i":180,"v":48},{"i":181,"v":45.6},{"i":183,"v":44.6},{"i":185,"v":34},{"i":187,"v":33.63}]
},
"vconcat":[
{"width":1148,"height":178,"resolve":{"axis":{"y":"independent"}},"encoding":{"x":{"field":"i","type":"quantitative","scale":{"domain":[-0.27,203.3],"nice":false,"zero":false},"axis":null}},"layer":[
{"data":{"name":"bands"},"mark":{"type":"rect","fill":"#887f66","opacity":0.09},"encoding":{"x":{"field":"a","type":"quantitative","axis":null},"x2":{"field":"b"}}},
{"data":{"name":"xticks"},"mark":{"type":"rule","color":"#e2dccb","strokeWidth":1.2}},
{"data":{"values":[{"v":0},{"v":10},{"v":20},{"v":30},{"v":40},{"v":50},{"v":60},{"v":70},{"v":80},{"v":90},{"v":100}]},"mark":{"type":"rule","color":"#eee7d4","strokeWidth":1.2},"encoding":{"x":null,"y":{"field":"v","type":"quantitative","scale":{"domain":[-3.6,103.7],"nice":false,"zero":false},"axis":{"orient":"right","title":null,"values":[10,30,50,70,90]}}}},
{"data":{"values":[{"v":70},{"v":30}]},"mark":{"type":"rule","color":"#9aa6a6","strokeWidth":1.5},"encoding":{"x":null,"y":{"field":"v","type":"quantitative","axis":null}}},
{"data":{"values":[{"v":50}]},"mark":{"type":"rule","color":"#9aa6a6","strokeWidth":1,"strokeDash":[6,2,2,2]},"encoding":{"x":null,"y":{"field":"v","type":"quantitative","axis":null}}},
{"data":{"name":"rsi"},"mark":{"type":"line","color":"#5a6670","strokeWidth":1.5},"encoding":{"y":{"field":"v","type":"quantitative","axis":null}}},
{"data":{"values":[{"i":8.2,"v":58},{"i":199.2,"v":49.8}]},"mark":{"type":"line","color":"#22ee22","strokeWidth":2.2},"encoding":{"y":{"field":"v","type":"quantitative","axis":null}}},
{"data":{"values":[{"i":11.2,"v":1},{"i":184.4,"v":28.6}]},"mark":{"type":"line","color":"#f01414","strokeWidth":2.2},"encoding":{"y":{"field":"v","type":"quantitative","axis":null}}},
{"data":{"values":[{"i":182.4,"v":17.3,"t":"3xtraders"}]},"mark":{"type":"text","fontWeight":"bold","fontSize":16,"color":"#d3d1c9"},"encoding":{"y":{"field":"v","type":"quantitative","axis":null},"text":{"field":"t"}}},
{"data":{"values":[{"i":0.4,"v":100.7,"t":"RSI(14) 56.82"}]},"mark":{"type":"text","align":"left","fontSize":9.5,"color":"#33414d"},"encoding":{"y":{"field":"v","type":"quantitative","axis":null},"text":{"field":"t"}}},
{"data":{"values":[{"i":-0.35,"v":112.8,"t":"$VIX"}]},"mark":{"type":"text","align":"left","fontSize":11.5,"fontWeight":"bold","color":"#1b2b3b"},"encoding":{"y":{"field":"v","type":"quantitative","axis":null},"text":{"field":"t"}}},
{"data":{"values":[{"i":4.7,"v":112.5,"t":"Volatility Index - New Methodology"},{"i":-0.35,"v":107,"t":"23-Mar-2026"},{"i":154.3,"v":107,"t":"30.04"},{"i":163.4,"v":107,"t":"31.04"},{"i":172.5,"v":107,"t":"20.28"},{"i":182.8,"v":107,"t":"26.15"},{"i":191.7,"v":107,"t":"-0.63 (-2.35%)"}]},"mark":{"type":"text","align":"left","fontSize":9.3,"color":"#3a4a58"},"encoding":{"y":{"field":"v","type":"quantitative","axis":null},"text":{"field":"t"}}},
{"data":{"values":[{"i":31,"v":112.5,"t":"INDX"}]},"mark":{"type":"text","align":"left","fontSize":8.5,"color":"#3a4a58"},"encoding":{"y":{"field":"v","type":"quantitative","axis":null},"text":{"field":"t"}}},
{"data":{"values":[{"i":149.4,"v":107,"t":"Open"},{"i":159.2,"v":107,"t":"High"},{"i":168.4,"v":107,"t":"Low"},{"i":177.5,"v":107,"t":"Close"},{"i":187.9,"v":107,"t":"Chg"}]},"mark":{"type":"text","align":"left","fontSize":10,"fontWeight":"bold","color":"#1b2b3b"},"encoding":{"y":{"field":"v","type":"quantitative","axis":null},"text":{"field":"t"}}},
{"data":{"values":[{"i":203.3,"v":113,"t":"© StockCharts.com"}]},"mark":{"type":"text","align":"right","fontSize":9.8,"color":"#6a7480"},"encoding":{"y":{"field":"v","type":"quantitative","axis":null},"text":{"field":"t"}}},
{"data":{"values":[{"i":203.2,"v":107,"t":"▼"}]},"mark":{"type":"text","fontSize":6,"color":"#a01030"},"encoding":{"y":{"field":"v","type":"quantitative","axis":null},"text":{"field":"t"}}}
]},
{"width":1148,"height":505,"resolve":{"axis":{"y":"independent"}},"encoding":{"x":{"field":"i","type":"quantitative","scale":{"domain":[-0.27,203.3],"nice":false,"zero":false},"axis":null}},"layer":[
{"data":{"name":"bands"},"mark":{"type":"rect","fill":"#887f66","opacity":0.09},"encoding":{"x":{"field":"a","type":"quantitative","axis":null},"x2":{"field":"b"}}},
{"data":{"name":"xticks"},"mark":{"type":"rule","color":"#e2dccb","strokeWidth":1.2}},
{"data":{"values":[{"v":13},{"v":14},{"v":15},{"v":16},{"v":17},{"v":18},{"v":19},{"v":20},{"v":21},{"v":22},{"v":23},{"v":24},{"v":25},{"v":26},{"v":27},{"v":28},{"v":29},{"v":30},{"v":31},{"v":32},{"v":33},{"v":34},{"v":35},{"v":36}]},"mark":{"type":"rule","color":"#ebe4d1","strokeWidth":1.2},"encoding":{"x":null,"y":{"field":"v","type":"quantitative","scale":{"type":"log","domain":[12.89,36.39],"nice":false},"axis":{"orient":"right","title":null,"values":[13,14,15,16,17,18,19,20,21,22,23,24,25,26,27,28,29,30,31,32,33,34,35,36]}}}},
{"data":{"name":"candles"},"mark":{"type":"rule","strokeWidth":1},"encoding":{"y":{"field":"l","type":"quantitative","axis":null},"y2":{"field":"h"},"color":{"field":"d","type":"nominal","scale":{"domain":["up","dn"],"range":["#111111","#d40a34"]},"legend":null}}},
{"data":{"name":"candles"},"mark":{"type":"bar","size":4.4,"strokeWidth":1},"encoding":{"y":{"field":"o","type":"quantitative","axis":null},"y2":{"field":"c"},"stroke":{"field":"d","type":"nominal","scale":{"domain":["up","dn"],"range":["#111111","#d40a34"]},"legend":null},"fill":{"condition":{"test":"datum.c > datum.o","value":"#fffdf6"},"field":"d","type":"nominal","scale":{"domain":["up","dn"],"range":["#111111","#d40a34"]},"legend":null}}},
{"data":{"name":"ma200"},"mark":{"type":"line","color":"#d8324f","strokeWidth":1.2,"interpolate":"monotone"},"encoding":{"y":{"field":"v","type":"quantitative","axis":null}}},
{"data":{"name":"ma50"},"mark":{"type":"line","color":"#3636b4","strokeWidth":1.2,"interpolate":"monotone"},"encoding":{"y":{"field":"v","type":"quantitative","axis":null}}},
{"data":{"name":"ma20"},"mark":{"type":"line","color":"#ff78f0","strokeWidth":1.2,"interpolate":"monotone"},"encoding":{"y":{"field":"v","type":"quantitative","axis":null}}},
{"data":{"name":"tags"},"transform":[{"filter":"datum.pos === 'above'"}],"mark":{"type":"point","filled":true,"opacity":1,"shape":"M0,0L-0.3,-0.33L-1,-0.33L-1,-1.17L1,-1.17L1,-0.33L0.3,-0.33Z","size":576,"fill":"#e9ece4","stroke":"#b3bebe","strokeWidth":1},"encoding":{"y":{"field":"p","type":"quantitative","axis":null}}},
{"data":{"name":"tags"},"transform":[{"filter":"datum.pos === 'below'"}],"mark":{"type":"point","filled":true,"opacity":1,"shape":"M0,0L-0.3,0.33L-1,0.33L-1,1.17L1,1.17L1,0.33L0.3,0.33Z","size":576,"fill":"#e9ece4","stroke":"#b3bebe","strokeWidth":1},"encoding":{"y":{"field":"p","type":"quantitative","axis":null}}},
{"data":{"name":"tags"},"transform":[{"filter":"datum.pos === 'above'"}],"mark":{"type":"text","fontSize":9,"dy":-9,"color":"#1a3340"},"encoding":{"y":{"field":"p","type":"quantitative","axis":null},"text":{"field":"p","format":".2f"}}},
{"data":{"name":"tags"},"transform":[{"filter":"datum.pos === 'below'"}],"mark":{"type":"text","fontSize":9,"dy":9,"color":"#1a3340"},"encoding":{"y":{"field":"p","type":"quantitative","axis":null},"text":{"field":"p","format":".2f"}}},
{"data":{"name":"arcs"},"mark":{"type":"line","color":"#000000","strokeWidth":2.2,"interpolate":"monotone"},"encoding":{"y":{"field":"v","type":"quantitative","axis":null},"detail":{"field":"arc"},"order":{"field":"n"}}},
{"data":{"name":"magenta"},"mark":{"type":"line","color":"#f014e0","strokeWidth":2.8,"interpolate":"monotone"},"encoding":{"y":{"field":"v","type":"quantitative","axis":null}}},
{"data":{"values":[{"a":137,"b":182.1,"y1":20.42,"y2":19.42}]},"mark":{"type":"rect","fill":"#c4c2bb"},"encoding":{"x":{"field":"a","type":"quantitative","axis":null},"x2":{"field":"b"},"y":{"field":"y1","type":"quantitative","axis":null},"y2":{"field":"y2"}}},
{"data":{"values":[{"n":0,"i":181.6,"v":20.25},{"n":1,"i":187,"v":20.02},{"n":2,"i":181.6,"v":19.8}]},"mark":{"type":"line","fill":"#ffffff","stroke":"#9a9a9a","strokeWidth":1},"encoding":{"y":{"field":"v","type":"quantitative","axis":null},"order":{"field":"n"}}},
{"data":{"values":[{"a":136.7,"b":181.6,"y1":20.48,"y2":19.5}]},"mark":{"type":"rect","fill":"#ffffff","stroke":"#9a9a9a","strokeWidth":1},"encoding":{"x":{"field":"a","type":"quantitative","axis":null},"x2":{"field":"b"},"y":{"field":"y1","type":"quantitative","axis":null},"y2":{"field":"y2"}}},
{"data":{"values":[{"i":137.3,"v":20,"t":"CLOSE DOESNT COUNT"}]},"mark":{"type":"text","align":"left","fontSize":17,"fontWeight":"bold","color":"#000000"},"encoding":{"y":{"field":"v","type":"quantitative","axis":null},"text":{"field":"t"}}},
{"data":{"values":[{"i":0.4,"v":36,"t":"$VIX (Daily) 26.15"}]},"mark":{"type":"text","align":"left","fontSize":9.2,"color":"#1b2b3b"},"encoding":{"y":{"field":"v","type":"quantitative","axis":null},"text":{"field":"t"}}},
{"data":{"values":[{"i":0.2,"v":35.34,"t":"– MA(50) 20.11"}]},"mark":{"type":"text","align":"left","fontSize":9,"color":"#2222aa"},"encoding":{"y":{"field":"v","type":"quantitative","axis":null},"text":{"field":"t"}}},
{"data":{"values":[{"i":0.2,"v":34.76,"t":"– MA(200) 17.74"}]},"mark":{"type":"text","align":"left","fontSize":9,"color":"#d40a34"},"encoding":{"y":{"field":"v","type":"quantitative","axis":null},"text":{"field":"t"}}},
{"data":{"values":[{"i":0.2,"v":34.12,"t":"– MA(20) 23.62"}]},"mark":{"type":"text","align":"left","fontSize":9,"color":"#ff60f0"},"encoding":{"y":{"field":"v","type":"quantitative","axis":null},"text":{"field":"t"}}},
{"data":{"values":[{"i":1.4,"v":33.56,"t":"Volume undef"}]},"mark":{"type":"text","align":"left","fontSize":9,"color":"#555555"},"encoding":{"y":{"field":"v","type":"quantitative","axis":null},"text":{"field":"t"}}}
]},
{"width":1148,"height":13,"view":{"stroke":null,"fill":"white"},"data":{"name":"xticks"},"encoding":{"x":{"field":"i","type":"quantitative","scale":{"domain":[-0.27,203.3],"nice":false,"zero":false},"axis":null},"text":{"field":"label"}},"layer":[
{"transform":[{"filter":"datum.major"}],"mark":{"type":"text","fontSize":11.5,"fontWeight":"bold","color":"#1b2b3b"}},
{"transform":[{"filter":"!datum.major"}],"mark":{"type":"text","fontSize":10.5,"color":"#1b2b3b"}}
]},
{"width":1148,"height":178,"resolve":{"axis":{"y":"independent"}},"encoding":{"x":{"field":"i","type":"quantitative","scale":{"domain":[-0.27,203.3],"nice":false,"zero":false},"axis":null}},"layer":[
{"data":{"name":"bands"},"mark":{"type":"rect","fill":"#887f66","opacity":0.09},"encoding":{"x":{"field":"a","type":"quantitative","axis":null},"x2":{"field":"b"}}},
{"data":{"name":"xticks"},"mark":{"type":"rule","color":"#e2dccb","strokeWidth":1.2}},
{"data":{"values":[{"v":-1.25},{"v":-1},{"v":-0.75},{"v":-0.5},{"v":-0.25},{"v":0},{"v":0.25},{"v":0.5},{"v":0.75},{"v":1},{"v":1.25},{"v":1.5},{"v":1.75},{"v":2},{"v":2.25}]},"mark":{"type":"rule","color":"#ebe4d1","strokeWidth":1.2},"encoding":{"x":null,"y":{"field":"v","type":"quantitative","scale":{"domain":[-1.294,2.375],"nice":false,"zero":false},"axis":{"orient":"right","title":null,"values":[-1.25,-1,-0.75,-0.5,-0.25,0,0.25,0.5,0.75,1,1.25,1.5,1.75,2,2.25],"format":".2f"}}}},
{"data":{"name":"hist"},"mark":{"type":"bar","size":4,"fill":"#9aa5a0","stroke":"#59645f","strokeWidth":1},"encoding":{"y":{"field":"v","type":"quantitative","axis":null}}},
{"data":{"name":"macd"},"mark":{"type":"line","color":"#5a6670","strokeWidth":1.5},"encoding":{"y":{"field":"v","type":"quantitative","axis":null}}},
{"data":{"name":"signal"},"mark":{"type":"line","color":"#4cb5a5","strokeWidth":1.3,"interpolate":"monotone"},"encoding":{"y":{"field":"v","type":"quantitative","axis":null}}},
{"data":{"values":[{"i":0.2,"v":2.27,"t":"– MACD(12,26,9)"},{"i":12.6,"v":2.27,"t":"1.648,"},{"i":21.3,"v":2.27,"t":"-0.048"}]},"mark":{"type":"text","align":"left","fontSize":8.8,"color":"#33414d"},"encoding":{"y":{"field":"v","type":"quantitative","axis":null},"text":{"field":"t"}}},
{"data":{"values":[{"i":17,"v":2.27,"t":"1.696,"}]},"mark":{"type":"text","align":"left","fontSize":8.8,"color":"#3aa595"},"encoding":{"y":{"field":"v","type":"quantitative","axis":null},"text":{"field":"t"}}}
]},
{"width":1148,"height":179,"resolve":{"axis":{"y":"independent"}},"encoding":{"x":{"field":"i","type":"quantitative","scale":{"domain":[-0.27,203.3],"nice":false,"zero":false},"axis":null}},"layer":[
{"data":{"name":"bands"},"mark":{"type":"rect","fill":"#887f66","opacity":0.09},"encoding":{"x":{"field":"a","type":"quantitative","axis":null},"x2":{"field":"b"}}},
{"data":{"name":"xticks"},"mark":{"type":"rule","color":"#e2dccb","strokeWidth":1.2}},
{"data":{"values":[{"v":0},{"v":10},{"v":20},{"v":30},{"v":40},{"v":50},{"v":60},{"v":70},{"v":80},{"v":90},{"v":100}]},"mark":{"type":"rule","color":"#eee7d4","strokeWidth":1.2},"encoding":{"x":null,"y":{"field":"v","type":"quantitative","scale":{"domain":[-3.3,103.3],"nice":false,"zero":false},"axis":{"orient":"right","title":null,"values":[20,50,80]}}}},
{"data":{"values":[{"v":80},{"v":20}]},"mark":{"type":"rule","color":"#9aa6a6","strokeWidth":1.5},"encoding":{"x":null,"y":{"field":"v","type":"quantitative","axis":null}}},
{"data":{"values":[{"v":50}]},"mark":{"type":"rule","color":"#9aa6a6","strokeWidth":1,"strokeDash":[6,2,2,2]},"encoding":{"x":null,"y":{"field":"v","type":"quantitative","axis":null}}},
{"data":{"name":"stok"},"mark":{"type":"line","color":"#5a6670","strokeWidth":1.5},"encoding":{"y":{"field":"v","type":"quantitative","axis":null}}},
{"data":{"name":"stod"},"mark":{"type":"line","color":"#4cb5a5","strokeWidth":1.3},"encoding":{"y":{"field":"v","type":"quantitative","axis":null}}},
{"data":{"values":[{"i":0.2,"v":100,"t":"– Slow STO %K(14) %D(3)"},{"i":19.5,"v":100,"t":"35.54,"}]},"mark":{"type":"text","align":"left","fontSize":8.8,"color":"#33414d"},"encoding":{"y":{"field":"v","type":"quantitative","axis":null},"text":{"field":"t"}}},
{"data":{"values":[{"i":24,"v":100,"t":"33.63"}]},"mark":{"type":"text","align":"left","fontSize":8.8,"color":"#3aa595"},"encoding":{"y":{"field":"v","type":"quantitative","axis":null},"text":{"field":"t"}}}
]},
{"width":1148,"height":12,"view":{"stroke":null,"fill":"white"},"data":{"name":"xticks"},"encoding":{"x":{"field":"i","type":"quantitative","scale":{"domain":[-0.27,203.3],"nice":false,"zero":false},"axis":null},"text":{"field":"label"}},"layer":[
{"transform":[{"filter":"datum.major"}],"mark":{"type":"text","fontSize":11.5,"fontWeight":"bold","color":"#1b2b3b"}},
{"transform":[{"filter":"!datum.major"}],"mark":{"type":"text","fontSize":10.5,"color":"#1b2b3b"}}
]}
]}
